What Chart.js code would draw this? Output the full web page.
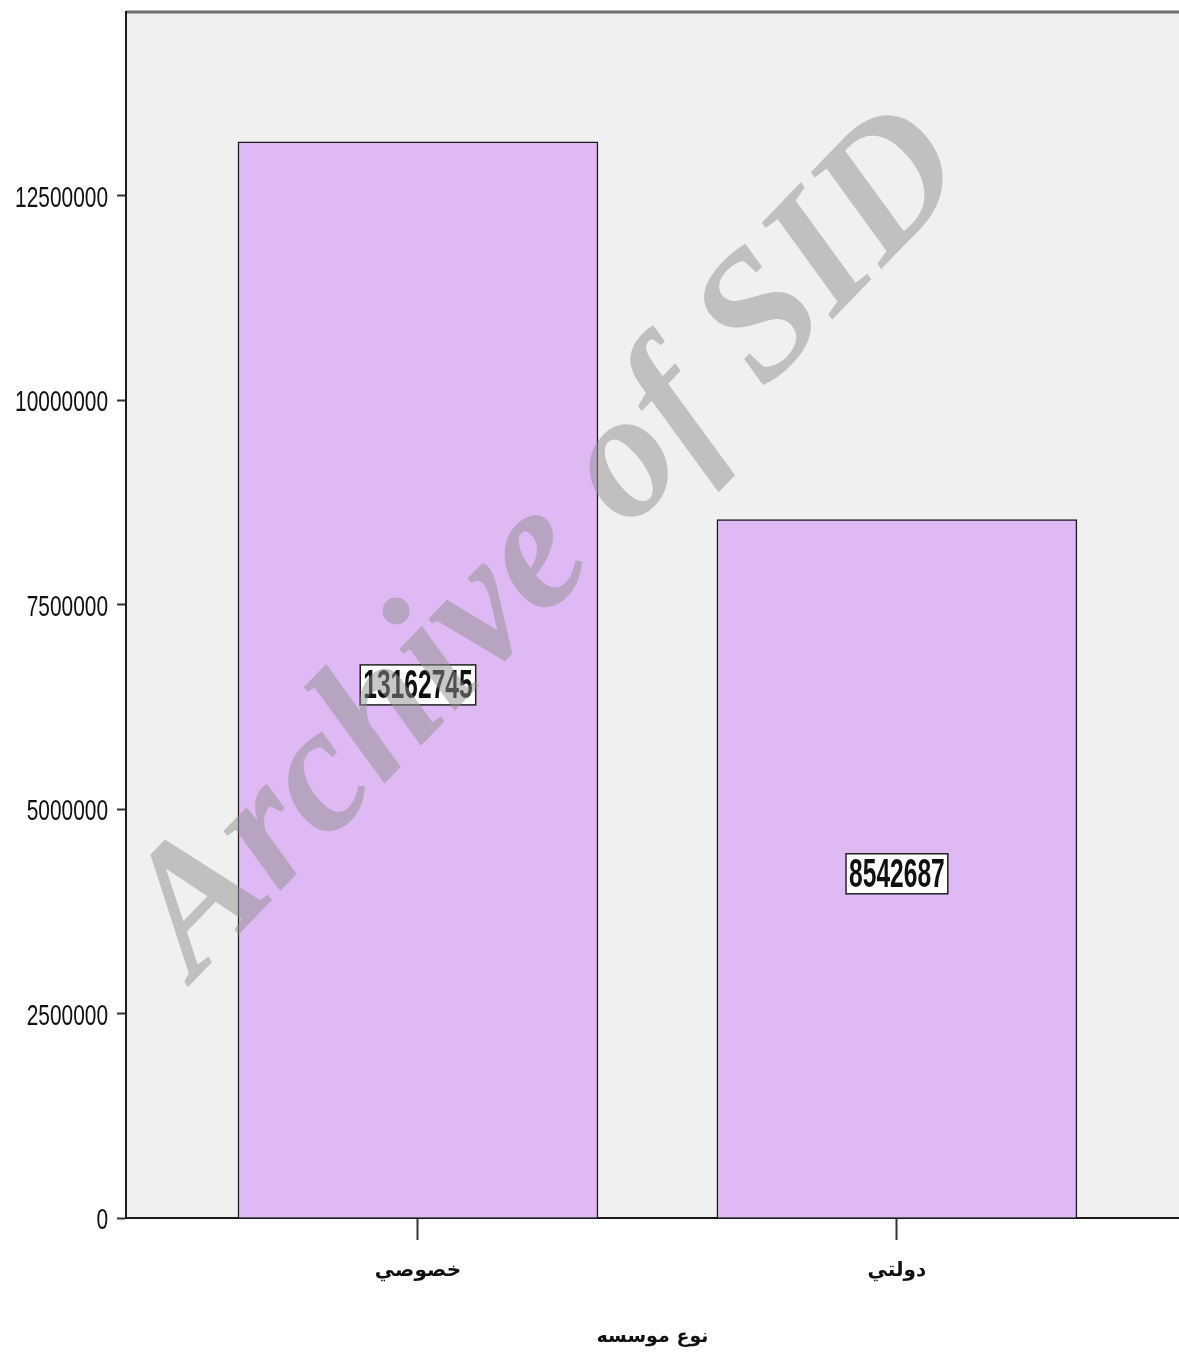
<!DOCTYPE html>
<html lang="fa">
<head>
  <meta charset="UTF-8" />
  <title>نوع موسسه</title>
  <script src="https://cdn.jsdelivr.net/npm/chart.js"></script>
  <style>
    html, body {
      margin: 0;
      padding: 0;
      background: #ffffff;
    }
    #wrap {
      width: 1179px;
      height: 1360px;
    }
  </style>
</head>
<body>
  <div id="wrap"><canvas id="chart"></canvas></div>

  <script>
    const categories = ['خصوصي', 'دولتي'];
    const values = [13162745, 8542687];
    const yTicks = [0, 2500000, 5000000, 7500000, 10000000, 12500000];
    const axisTitle = 'نوع موسسه';
    const watermark = 'Archive of SID';

    const sans = '"Liberation Sans", Arial, sans-serif';

    // fond gris + bordure haute
    const frame = {
      id: 'frame',
      beforeDraw(chart) {
        const { ctx, chartArea: a } = chart;
        ctx.save();
        ctx.fillStyle = '#f0f0f0';
        ctx.fillRect(a.left, a.top, a.right - a.left, a.bottom - a.top);
        ctx.strokeStyle = '#6e6e6e';
        ctx.lineWidth = 3;
        ctx.beginPath();
        ctx.moveTo(a.left, a.top);
        ctx.lineTo(a.right, a.top);
        ctx.stroke();
        ctx.restore();
      }
    };

    // chiffres de l'axe Y compressés horizontalement (police étroite)
    const squeezeY = {
      id: 'squeezeY',
      afterLayout(chart) {
        const sc = chart.scales.y;
        if (sc._squeezed) return;
        const orig = sc.drawLabels;
        sc._computeLabelArea = () => undefined;
        sc.drawLabels = function (area) {
          const ctx = this.ctx;
          const ax = this.right - 18;
          ctx.save();
          ctx.translate(ax, 3);
          ctx.scale(0.72, 1);
          ctx.translate(-ax, 0);
          orig.call(this, area);
          ctx.restore();
        };
        sc._squeezed = true;
      }
    };

    // étiquettes de valeur au milieu des barres
    const boxLabels = {
      id: 'boxLabels',
      afterDatasetsDraw(chart) {
        const { ctx } = chart;
        const y = chart.scales.y;
        const meta = chart.getDatasetMeta(0);
        const sx = 0.6;
        ctx.save();
        ctx.font = 'bold 41px ' + sans;
        ctx.textAlign = 'center';
        ctx.textBaseline = 'middle';
        meta.data.forEach((bar, i) => {
          const txt = String(values[i]);
          const cy = y.getPixelForValue(values[i] / 2) + 5;
          const w = ctx.measureText(txt).width * sx + 6;
          const h = 40;
          ctx.fillStyle = '#ffffff';
          ctx.fillRect(bar.x - w / 2, cy - h / 2, w, h);
          ctx.strokeStyle = '#222';
          ctx.lineWidth = 1.5;
          ctx.strokeRect(bar.x - w / 2, cy - h / 2, w, h);
          ctx.save();
          ctx.translate(bar.x, cy + 2);
          ctx.scale(sx, 1);
          ctx.fillStyle = '#111';
          ctx.fillText(txt, 0, 0);
          ctx.restore();
        });
        ctx.restore();
      }
    };

    // filigrane
    const stamp = {
      id: 'stamp',
      afterDatasetsDraw(chart) {
        const { ctx } = chart;
        const fam = '"Liberation Serif", "DejaVu Serif", serif';
        ctx.save();
        ctx.translate(550, 545);
        ctx.rotate(-46 * Math.PI / 180);
        ctx.font = 'italic bold 100px ' + fam;
        const k = 1120 / ctx.measureText(watermark).width;
        ctx.font = 'italic bold ' + Math.round(100 * k) + 'px ' + fam;
        ctx.textAlign = 'center';
        ctx.textBaseline = 'middle';
        ctx.fillStyle = 'rgba(144,144,144,0.5)';
        ctx.fillText(watermark, 0, 0);
        ctx.restore();
      }
    };

    new Chart(document.getElementById('chart'), {
      type: 'bar',
      data: {
        datasets: [{
          data: values.map((v, i) => ({ x: i, y: v })),
          backgroundColor: '#dfb9f3',
          borderColor: '#1a1a1a',
          borderWidth: 1.5,
          barThickness: 360
        }]
      },
      options: {
        responsive: true,
        maintainAspectRatio: false,
        animation: false,
        layout: { padding: { top: 12, right: 0, bottom: 0, left: 0 } },
        plugins: {
          legend: { display: false },
          tooltip: { enabled: false }
        },
        scales: {
          x: {
            type: 'linear',
            offset: false,
            min: -0.6096,
            max: 1.589,
            afterBuildTicks: s => { s.ticks = categories.map((c, i) => ({ value: i })); },
            afterFit: s => { s.height = 142; s.paddingLeft = 0; s.paddingRight = 0; },
            ticks: {
              callback: v => categories[v],
              color: '#111',
              padding: 19,
              maxRotation: 0,
              font: { family: '"DejaVu Sans", sans-serif', size: 20, weight: 'bold' }
            },
            grid: { offset: false, drawOnChartArea: false, tickLength: 22, tickWidth: 2, color: '#333' },
            border: { color: '#1a1a1a', width: 2 },
            title: {
              display: true,
              text: axisTitle,
              color: '#111',
              padding: { top: 8, bottom: 12 },
              font: { family: '"DejaVu Sans", sans-serif', size: 19, weight: 'bold' }
            }
          },
          y: {
            min: 0,
            max: 14750000,
            afterBuildTicks: s => { s.ticks = yTicks.map(v => ({ value: v })); },
            afterFit: s => { s.width = 126; s.paddingTop = 0; s.paddingBottom = 0; },
            ticks: {
              callback: v => String(v),
              color: '#111',
              padding: 9,
              font: { family: sans, size: 29 }
            },
            grid: { drawOnChartArea: false, tickLength: 9, tickWidth: 2, color: '#333' },
            border: { color: '#1a1a1a', width: 2 }
          }
        }
      },
      plugins: [frame, squeezeY, boxLabels, stamp]
    });
  </script>
</body>
</html>
